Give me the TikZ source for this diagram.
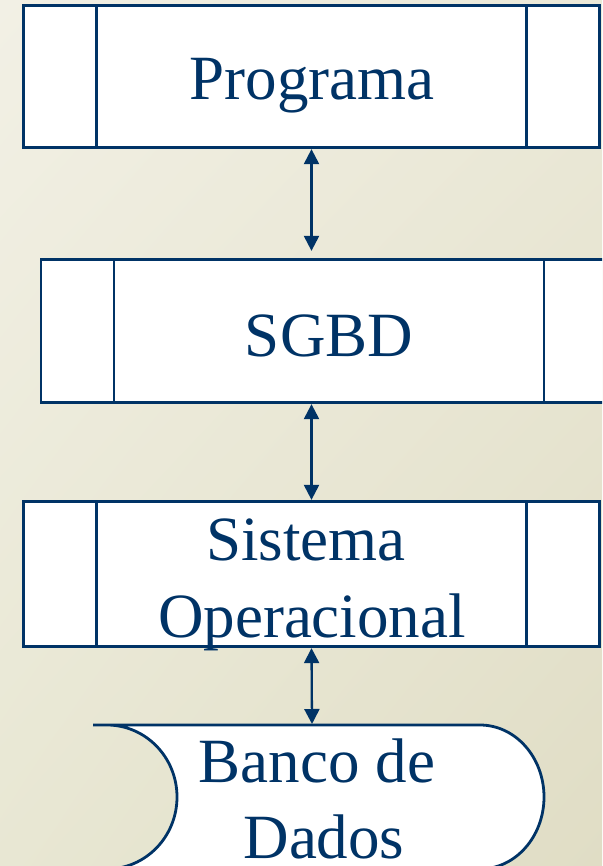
\documentclass[tikz,border=0pt]{standalone}
\usepackage{fontspec}
\setmainfont{Liberation Serif}
\usetikzlibrary{arrows.meta,shadings}
\definecolor{navy}{RGB}{0,51,102}
\definecolor{bgA}{RGB}{242,240,229}
\definecolor{bgB}{RGB}{235,233,216}
\definecolor{bgC}{RGB}{232,231,211}
\definecolor{bgD}{RGB}{224,221,197}
\def\bigfont{\fontsize{63}{76}\selectfont}
\tikzset{
  procbox/.style={draw=navy, line width=2.8pt, fill=white, inner sep=0pt,
    minimum width=576pt, minimum height=#1,
    path picture={\draw[navy, line width=2.8pt]
      ([xshift=73pt]path picture bounding box.north west) -- ([xshift=73pt]path picture bounding box.south west)
      ([xshift=-73pt]path picture bounding box.north east) -- ([xshift=-73pt]path picture bounding box.south east);}},
  lbl/.style={text=navy, font=\bigfont, anchor=base, inner sep=0pt},
  link/.style={navy, line width=2.3pt, {Triangle[length=15pt,width=15pt]}-{Triangle[length=15pt,width=15pt]}}
}

\begin{document}
\begin{tikzpicture}[x=1pt, y=-1pt]
			%%%%% START %%%%%
			
			\useasboundingbox (0,0) rectangle (602,866);
			\clip (0,0) rectangle (602,866);
			\shade[upper left=bgA, upper right=bgB, lower left=bgC, lower right=bgD] (0,0) rectangle (602,866);
			
			\node[procbox=142.5pt] (prog) at (311.5,76.5) {};
			\node[procbox=143.5pt] (sgbd) at (329,331) {};
			\node[procbox=145.5pt] (so) at (311.5,574) {};
			
			\draw[navy, line width=2.8pt, fill=white] (93,725) -- (480,725)
				arc[start angle=-90, end angle=90, x radius=64, y radius=72] -- (107,869)
				arc[start angle=90, end angle=-90, x radius=70, y radius=72] -- cycle;
			\coordinate (bdtop) at (312,724);
			
			\node[lbl] (tprog) at (312,100) {Programa};
			\node[lbl] (tsgbd) at (329,356) {SGBD};
			\node[lbl] (tsis) at (306,560) {Sistema};
			\node[lbl] (tope) at (312,637) {Operacional};
			\node[lbl] (tbanco) at (317,782) {Banco de};
			\node[lbl] (tdados) at (324,858) {Dados};
			
			\draw[link] (prog.south) -- ([yshift=7pt]prog.south |- sgbd.north);
			\draw[link] (prog.south |- sgbd.south) -- (so.north);
			\draw[link] (so.south) -- (bdtop);
			
			%%%%% END %%%%%
\end{tikzpicture}
\end{document}
